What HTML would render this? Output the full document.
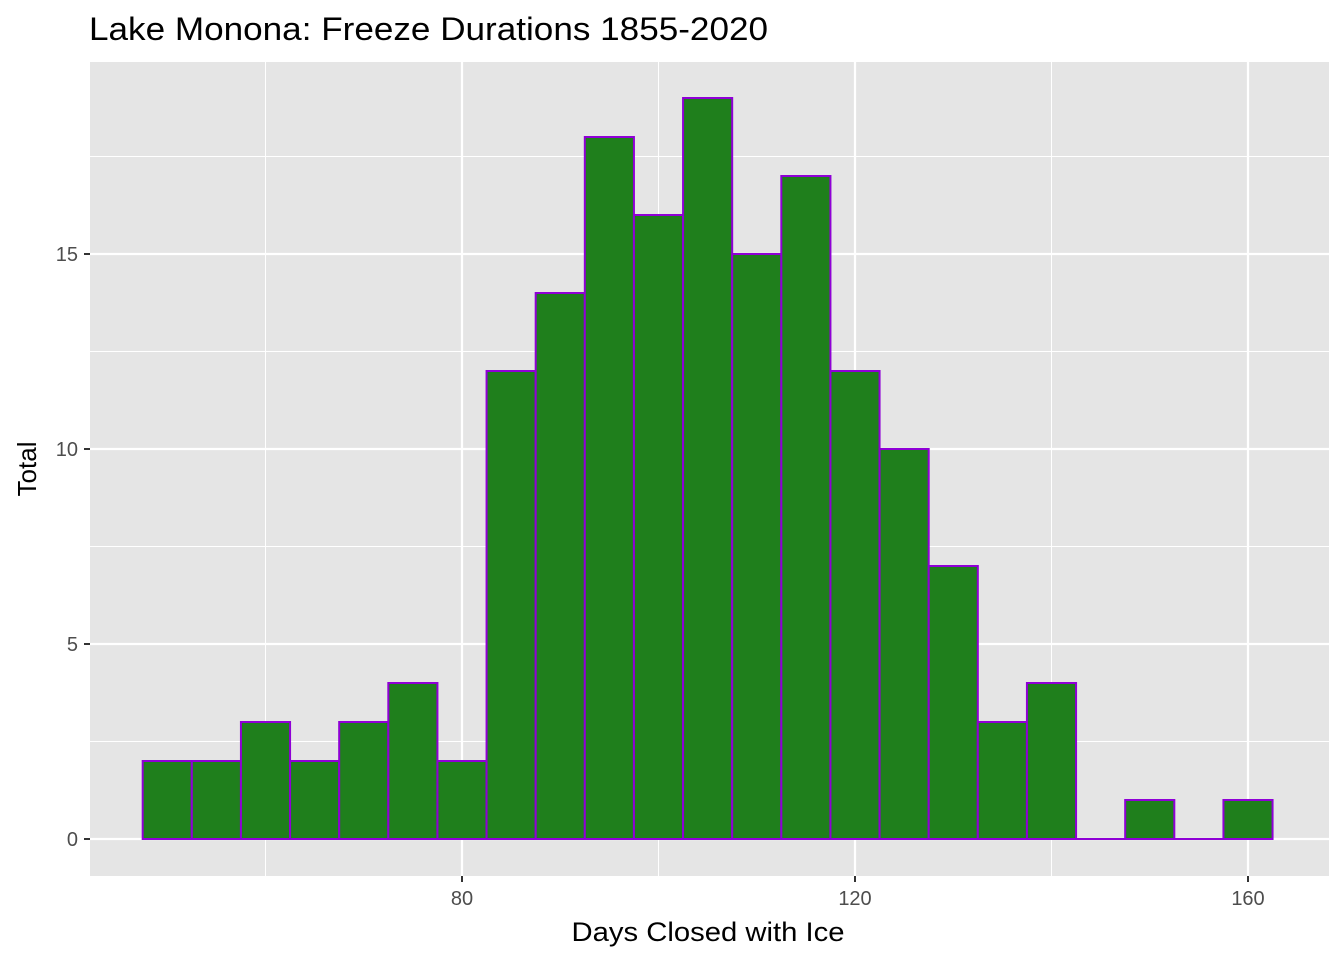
<!DOCTYPE html>
<html><head><meta charset="utf-8"><style>
body{margin:0;background:#fff;font-family:"Liberation Sans",Arial,sans-serif}
</style></head><body>
<svg id="chart" width="1344" height="960" xmlns="http://www.w3.org/2000/svg">
<text x="89" y="40" font-size="32" textLength="679" lengthAdjust="spacingAndGlyphs" fill="#000">Lake Monona: Freeze Durations 1855-2020</text>
<rect x="90" y="62" width="1239" height="814" fill="#e5e5e5"/>
<g id="grid"></g>
<g id="bars"></g>
<g id="axes"></g>
<text x="708" y="941" font-size="27" textLength="273" lengthAdjust="spacingAndGlyphs" text-anchor="middle" fill="#000">Days Closed with Ice</text>
<text transform="translate(36,469) rotate(-90)" font-size="26" text-anchor="middle" fill="#000">Total</text>
</svg>
<script>
const binStart = 47.5;
const binWidth = 5;
const counts = [2,2,3,2,3,4,2,12,14,18,16,19,15,17,12,10,7,3,4,0,1,0,1];
const xTicks = [80,120,160];
const xMinor = [60,100,140];
const yTicks = [0,5,10,15];
const yMinor = [2.5,7.5,12.5,17.5];
const ns="http://www.w3.org/2000/svg";
const X=v=>462+(v-80)*9.825;
const Y=v=>839-v*39;
const L=90,R=1329,T=62,B=876;
function mk(tag,attrs,parent){const e=document.createElementNS(ns,tag);for(const k in attrs)e.setAttribute(k,attrs[k]);document.getElementById(parent).appendChild(e);return e;}
yMinor.forEach(v=>{const e=mk('line',{x1:L,x2:R,y1:Y(v),y2:Y(v),stroke:'#fff','stroke-width':1},'grid');

});
xMinor.forEach(v=>{const e=mk('line',{x1:X(v),x2:X(v),y1:T,y2:B,stroke:'#fff','stroke-width':1},'grid');

});
yTicks.forEach(v=>{const e=mk('line',{x1:L,x2:R,y1:Y(v),y2:Y(v),stroke:'#fff','stroke-width':2.2},'grid');


const t=mk('line',{x1:L-6,x2:L,y1:Y(v),y2:Y(v),stroke:'#333','stroke-width':2},'axes');


const l=mk('text',{x:L-12,y:Y(v)+7,'font-size':20,'text-anchor':'end',fill:'#4d4d4d'},'axes');l.textContent=v;

});
xTicks.forEach(v=>{const e=mk('line',{x1:X(v),x2:X(v),y1:T,y2:B,stroke:'#fff','stroke-width':2.2},'grid');


const t=mk('line',{x1:X(v),x2:X(v),y1:B,y2:B+6,stroke:'#333','stroke-width':2},'axes');


const l=mk('text',{x:X(v),y:B+29,'font-size':20,'text-anchor':'middle',fill:'#4d4d4d'},'axes');l.textContent=v;

});
counts.forEach((c,i)=>{const x0=X(binStart+i*binWidth),x1=X(binStart+(i+1)*binWidth);
if(c===0){const z=mk('line',{x1:x0,x2:x1,y1:Y(0),y2:Y(0),stroke:'#8f00d6','stroke-width':2},'bars');

return;}
const r=mk('rect',{x:x0,y:Y(c),width:x1-x0,height:Y(0)-Y(c),fill:'#1f7f1c',stroke:'#8f00d6','stroke-width':2},'bars');

});
</script>
</body></html>
